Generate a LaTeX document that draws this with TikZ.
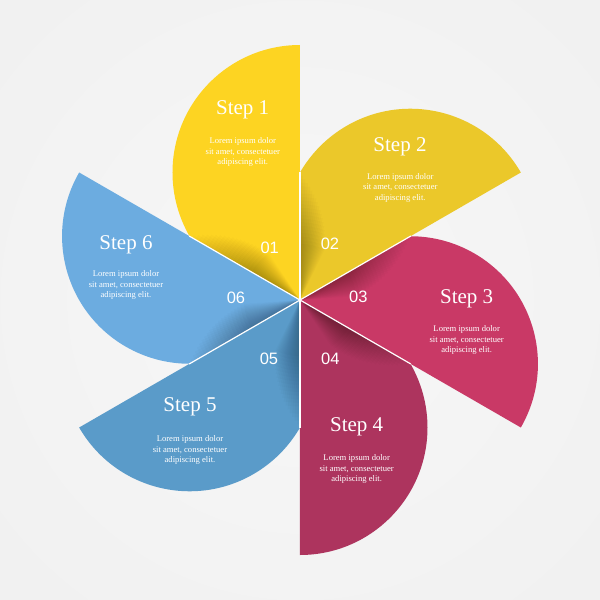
\documentclass[tikz,border=0pt]{standalone}
\usepackage{fontspec}
\setmainfont{Liberation Serif}
\newfontfamily\numfont{Liberation Sans}
\definecolor{cA}{HTML}{FDD422}
\definecolor{cB}{HTML}{EBC82A}
\definecolor{cC}{HTML}{C93966}
\definecolor{cD}{HTML}{AD345E}
\definecolor{cE}{HTML}{5A9BC9}
\definecolor{cF}{HTML}{6CACE0}
\definecolor{bgin}{HTML}{F7F7F7}
\definecolor{bgmid}{HTML}{EEEEEE}
\definecolor{bgout}{HTML}{E5E5E5}
\pgfdeclareradialshading{bgshade}{\pgfpoint{0bp}{0bp}}{color(0bp)=(bgin); color(50bp)=(bgmid); color(71bp)=(bgout)}
\tikzset{
  stitle/.style={text=white, inner sep=0pt, font=\fontsize{21}{24}\selectfont},
  sbody/.style={text=white, align=center, inner sep=0pt, font=\fontsize{8.6}{10.5}\selectfont},
  snum/.style={text=white, inner sep=0pt, font=\numfont\fontsize{16.5}{18}\selectfont},
  sepline/.style={draw=white, line width=1.2pt}
}
\begin{document}
\begin{tikzpicture}[x=1pt,y=1pt]
\useasboundingbox (-300,-300) rectangle (300,300);
\shade[shading=bgshade] (-300,-300) rectangle (300,300);
\foreach \t/\c in {90/cA, 30/cB, -30/cC, -90/cD, -150/cE, 150/cF} {
  \pgfmathsetmacro{\tend}{\t+120}
  \pgfmathsetmacro{\te}{\t+60}
  \begin{scope}
    \path[clip] (0,0) -- (\t:255) arc[start angle=\t, end angle=\tend, radius=127.5] -- cycle;
    \fill[\c] (-300,-300) rectangle (300,300);
    \foreach \i in {1,...,20} {
      \pgfmathsetmacro{\rr}{128-3.6*\i}
      \pgfmathsetmacro{\ee}{\te-1.3*\i}
      \fill[black, opacity=0.014] (0,0) -- (\te:\rr) arc[start angle=\te, end angle=\ee, radius=\rr] -- cycle;
    }
  \end{scope}
}
\foreach \t in {90,30,-30,-90,-150,150} {
  \draw[sepline] (0,0) -- (\t:128);
}
% titles
\node[stitle] (t1) at (-57.3,190.7) {Step 1};
\node[stitle] (t2) at (100,153.3) {Step 2};
\node[stitle] (t3) at (166.7,1.7) {Step 3};
\node[stitle] (t4) at (56.7,-126.7) {Step 4};
\node[stitle] (t5) at (-110,-106.7) {Step 5};
\node[stitle] (t6) at (-174,55) {Step 6};
% bodies
\node[sbody] (b1) at (-57.2,147.7) {Lorem ipsum dolor\\sit amet, consectetuer\\adipiscing elit.};
\node[sbody] (b2) at (100.3,112.3) {Lorem ipsum dolor\\sit amet, consectetuer\\adipiscing elit.};
\node[sbody] (b3) at (166.7,-40.3) {Lorem ipsum dolor\\sit amet, consectetuer\\adipiscing elit.};
\node[sbody] (b4) at (56.7,-169.3) {Lorem ipsum dolor\\sit amet, consectetuer\\adipiscing elit.};
\node[sbody] (b5) at (-110,-150) {Lorem ipsum dolor\\sit amet, consectetuer\\adipiscing elit.};
\node[sbody] (b6) at (-174,14.7) {Lorem ipsum dolor\\sit amet, consectetuer\\adipiscing elit.};
% numbers
\node[snum] (n1) at (-30.3,52.3) {01};
\node[snum] (n2) at (30,55.7) {02};
\node[snum] (n3) at (58.3,2.7) {03};
\node[snum] (n4) at (30.3,-59.3) {04};
\node[snum] (n5) at (-31,-59) {05};
\node[snum] (n6) at (-64,2.3) {06};
\end{tikzpicture}
\end{document}
